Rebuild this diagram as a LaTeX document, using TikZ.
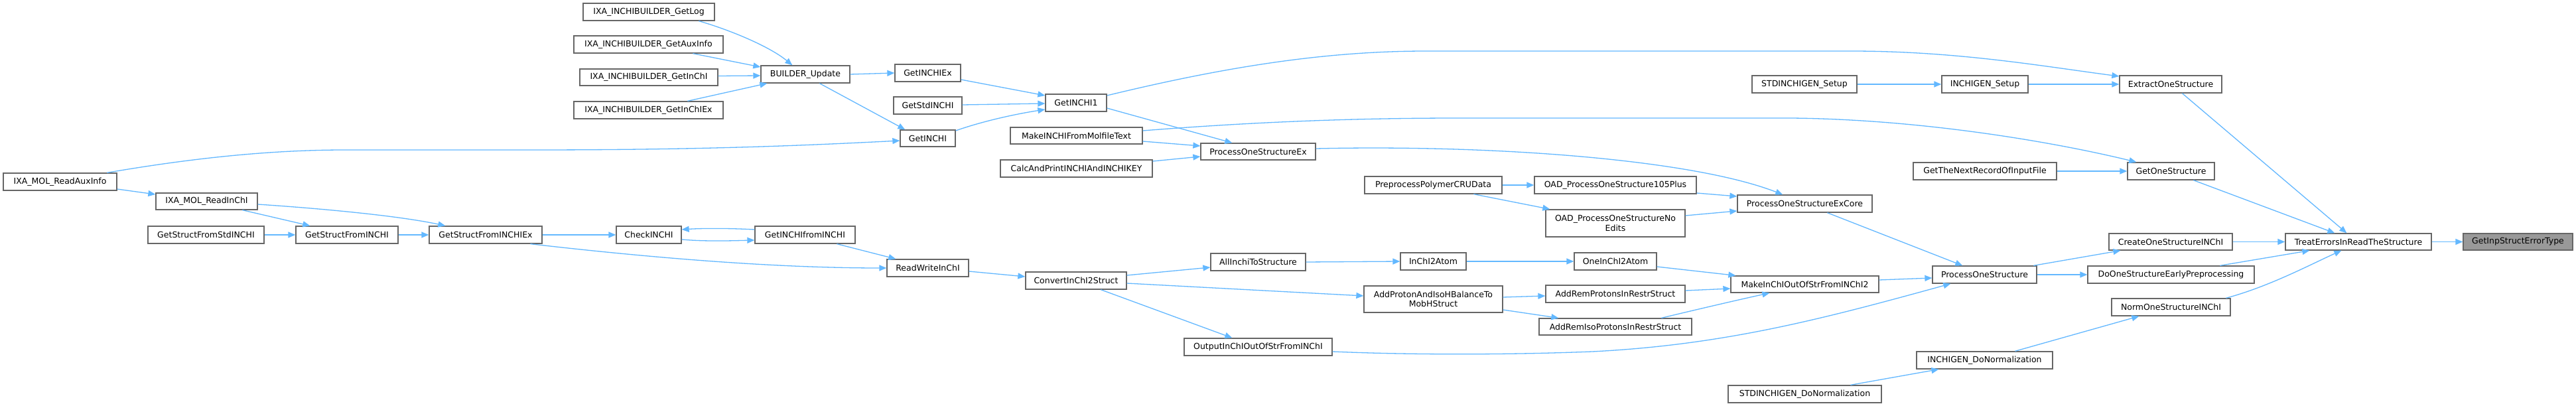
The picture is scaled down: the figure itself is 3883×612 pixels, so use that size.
\documentclass[tikz,border=0pt]{standalone}
\usepackage{fontspec}
\setmainfont{DejaVu Sans}
\usetikzlibrary{arrows.meta}
\definecolor{edgeblue}{HTML}{63B8FF}
\definecolor{boxgray}{HTML}{666666}
\definecolor{rootfill}{HTML}{999999}
\newcommand{\gbox}[7]{\node[nbox,#2,minimum width={(#5-#3)*1pt},minimum height={(#6-#4)*1pt}] (#1) at ({(#3+#5)/2},{(#4+#6)/2}) {#7};}
\tikzset{
  nbox/.style={draw=boxgray, fill=white, line width=1.3pt, inner sep=0pt, align=center,
    font=\fontsize{12.5}{14.5}\selectfont, text=black},
  rootbox/.style={fill=rootfill},
  plain/.style={},
  edge/.style={draw=edgeblue, line width=1.3pt, -{Triangle[length=11pt,width=9pt]}}
}
\begin{document}
\begin{tikzpicture}[x=1pt,y=-1pt]
\fill[white] (0,0) rectangle (3883,612);
\path[use as bounding box] (0,0) rectangle (3883,612);
% nodes
\gbox{rai}{plain}{5}{261}{176}{287}{IXA\_MOL\_ReadAuxInfo}
\gbox{rinchi}{plain}{235}{291}{388}{316}{IXA\_MOL\_ReadInChI}
\gbox{gsfstd}{plain}{223}{341}{398}{367}{GetStructFromStdINCHI}
\gbox{gsf}{plain}{446}{341}{600}{367}{GetStructFromINCHI}
\gbox{gsfex}{plain}{647}{341}{817}{367}{GetStructFromINCHIEx}
\gbox{chk}{plain}{929}{341}{1027}{367}{CheckINCHI}
\gbox{gif}{plain}{1138}{341}{1289}{367}{GetINCHIfromINCHI}
\gbox{rw}{plain}{1337}{391}{1460}{417}{ReadWriteInChI}
\gbox{conv}{plain}{1546}{410}{1698}{436}{ConvertInChI2Struct}
\gbox{getlog}{plain}{879}{5}{1077}{31}{IXA\_INCHIBUILDER\_GetLog}
\gbox{getaux}{plain}{865}{54}{1090}{80}{IXA\_INCHIBUILDER\_GetAuxInfo}
\gbox{getinchib}{plain}{874}{104}{1082}{129}{IXA\_INCHIBUILDER\_GetInChI}
\gbox{getinchiexb}{plain}{865}{153}{1090}{179}{IXA\_INCHIBUILDER\_GetInChIEx}
\gbox{bu}{plain}{1147}{99}{1281}{125}{BUILDER\_Update}
\gbox{gex}{plain}{1349}{97}{1448}{123}{GetINCHIEx}
\gbox{gstd}{plain}{1347}{146}{1450}{172}{GetStdINCHI}
\gbox{gi}{plain}{1357}{196}{1440}{221}{GetINCHI}
\gbox{gi1}{plain}{1576}{142}{1668}{168}{GetINCHI1}
\gbox{mk}{plain}{1523}{192}{1722}{217}{MakeINCHIFromMolfileText}
\gbox{calc}{plain}{1508}{241}{1737}{267}{CalcAndPrintINCHIAndINCHIKEY}
\gbox{pose}{plain}{1810}{216}{1983}{241}{ProcessOneStructureEx}
\gbox{ppc}{plain}{2057}{266}{2264}{292}{PreprocessPolymerCRUData}
\gbox{oad1}{plain}{2313}{266}{2557}{292}{OAD\_ProcessOneStructure105Plus}
\gbox{oad2}{plain}{2330}{316}{2540}{357}{OAD\_ProcessOneStructureNo\\Edits}
\gbox{allin}{plain}{1825}{382}{1968}{408}{AllInchiToStructure}
\gbox{i2a}{plain}{2111}{381}{2210}{407}{InChI2Atom}
\gbox{oi2a}{plain}{2373}{381}{2497}{407}{OneInChI2Atom}
\gbox{addp}{plain}{2056}{431}{2265}{471}{AddProtonAndIsoHBalanceTo\\MobHStruct}
\gbox{arp}{plain}{2330}{430}{2540}{456}{AddRemProtonsInRestrStruct}
\gbox{arip}{plain}{2320}{480}{2550}{505}{AddRemIsoProtonsInRestrStruct}
\gbox{out}{plain}{1785}{510}{2008}{536}{OutputInChIOutOfStrFromINChI}
\gbox{stdsetup}{plain}{2641}{114}{2799}{140}{STDINCHIGEN\_Setup}
\gbox{isetup}{plain}{2927}{114}{3057}{140}{INCHIGEN\_Setup}
\gbox{ext}{plain}{3195}{114}{3349}{140}{ExtractOneStructure}
\gbox{gnr}{plain}{2884}{245}{3100}{271}{GetTheNextRecordOfInputFile}
\gbox{gos}{plain}{3207}{245}{3338}{271}{GetOneStructure}
\gbox{posec}{plain}{2619}{294}{2822}{320}{ProcessOneStructureExCore}
\gbox{mk2}{plain}{2609}{416}{2832}{441}{MakeInChIOutOfStrFromINChI2}
\gbox{pos}{plain}{2913}{401}{3070}{427}{ProcessOneStructure}
\gbox{idn}{plain}{2889}{530}{3094}{556}{INCHIGEN\_DoNormalization}
\gbox{sdn}{plain}{2605}{581}{2836}{607}{STDINCHIGEN\_DoNormalization}
\gbox{cos}{plain}{3179}{352}{3365}{377}{CreateOneStructureINChI}
\gbox{doe}{plain}{3147}{401}{3398}{427}{DoOneStructureEarlyPreprocessing}
\gbox{nos}{plain}{3183}{450}{3362}{476}{NormOneStructureINChI}
\gbox{tre}{plain}{3445}{352}{3665}{377}{TreatErrorsInReadTheStructure}
\gbox{root}{rootbox}{3713}{352}{3878}{377}{GetInpStructErrorType}
% edges
\draw[edge] ([xshift=157pt]rai.north west) .. controls (280,240) and (400,226) .. (520,226) -- (800,226) .. controls (1050,226) and (1200,220) .. ([yshift=-3.5pt]gi.west);
\draw[edge] ([yshift=-11pt]rai.east) -- ([yshift=10.5pt]rinchi.west);
\draw[edge] ([xshift=131pt]rinchi.south west) -- ([xshift=22pt]gsf.north west);
\draw[edge] ([yshift=-4.5pt]rinchi.east) .. controls (480,314) and (600,325) .. ([xshift=25pt]gsfex.north west);
\draw[edge] (gsfstd.east) -- (gsf.west);
\draw[edge] (gsf.east) -- (gsfex.west);
\draw[edge] (gsfex.east) -- (chk.west);
\draw[edge] ([xshift=153pt]gsfex.south west) .. controls (950,385) and (1150,404) .. (rw.west);
\draw[edge] ([yshift=-7pt]chk.east) .. controls (1060,364) and (1100,363) .. ([yshift=-8pt]gif.west);
\draw[edge] ([yshift=8pt]gif.west) .. controls (1100,344) and (1060,344) .. ([yshift=8pt]chk.east);
\draw[edge] ([xshift=124pt]gif.south west) -- ([xshift=14pt]rw.north west);
\draw[edge] ([yshift=-5pt]rw.east) -- ([yshift=6pt]conv.west);
\draw[edge] ([yshift=8pt]conv.east) -- ([yshift=-8pt]allin.west);
\draw[edge] ([yshift=-4pt]conv.east) -- ([yshift=5pt]addp.west);
\draw[edge] ([xshift=114pt]conv.south west) -- ([xshift=73pt]out.north west);
\draw[edge] (allin.east) -- (i2a.west);
\draw[edge] (i2a.east) -- (oi2a.west);
\draw[edge] ([yshift=-8pt]oi2a.east) -- ([xshift=8pt]mk2.north west);
\draw[edge] ([yshift=3pt]addp.east) -- ([yshift=-3pt]arp.west);
\draw[edge] ([yshift=-16pt]addp.east) -- ([xshift=30pt]arip.north west);
\draw[edge] ([yshift=5pt]arp.east) -- ([yshift=-6.5pt]mk2.west);
\draw[edge] ([xshift=185pt]arip.north west) .. controls (2560,466) and (2620,452) .. ([xshift=59pt]mk2.south west);
\draw[edge] ([yshift=-7pt]out.east) .. controls (2150,536) and (2300,534) .. (2400,530) .. controls (2600,520) and (2750,480) .. ([xshift=28pt]pos.south west);
\draw[edge] ([yshift=6.5pt]mk2.east) -- ([yshift=-5pt]pos.west);
\draw[edge] ([xshift=136pt]posec.south west) -- ([xshift=46pt]pos.north west);
\draw[edge] ([xshift=153pt]pos.north west) -- ([xshift=18pt]cos.south west);
\draw[edge] (pos.east) -- (doe.west);
\draw[edge] ([xshift=149pt]idn.north west) -- ([xshift=42pt]nos.south west);
\draw[edge] ([xshift=185pt]sdn.north west) -- ([xshift=34pt]idn.south west);
\draw[edge] (cos.east) -- (tre.west);
\draw[edge] ([xshift=200pt]doe.north west) -- ([xshift=37pt]tre.south west);
\draw[edge] ([xshift=173pt]nos.north west) .. controls (3420,432) and (3480,400) .. ([xshift=85pt]tre.south west);
\draw[edge] ([xshift=100pt]gos.south west) -- ([xshift=75pt]tre.north west);
\draw[edge] ([xshift=95pt]ext.south west) -- ([xshift=93pt]tre.north west);
\draw[edge] (tre.east) -- (root.west);
\draw[edge] (gnr.east) -- (gos.west);
\draw[edge] (stdsetup.east) -- (isetup.west);
\draw[edge] (isetup.east) -- (ext.west);
\draw[edge] ([yshift=11pt]gi1.east) .. controls (1850,100) and (2000,77) .. (2150,77) -- (2790,77) .. controls (2950,77) and (3080,100) .. ([yshift=12pt]ext.west);
\draw[edge] ([yshift=7.5pt]mk.east) .. controls (1900,183) and (2050,178) .. (2200,178) -- (2700,178) .. controls (2900,180) and (3100,215) .. ([xshift=14pt]gos.north west);
\draw[edge] ([yshift=4.5pt]pose.east) .. controls (2250,218) and (2550,240) .. ([xshift=69pt]posec.north west);
\draw[edge] (ppc.east) -- (oad1.west);
\draw[edge] ([xshift=165pt]ppc.south west) -- ([xshift=7pt]oad2.north west);
\draw[edge] ([yshift=-12pt]oad1.east) -- ([yshift=11pt]posec.west);
\draw[edge] ([yshift=11.5pt]oad2.east) -- ([yshift=-11pt]posec.west);
\draw[edge] ([yshift=-8pt]gi1.east) -- ([xshift=48pt]pose.north west);
\draw[edge] ([yshift=-8.5pt]mk.east) -- ([yshift=8.5pt]pose.west);
\draw[edge] ([yshift=11pt]calc.east) -- ([yshift=-7.5pt]pose.west);
\draw[edge] ([yshift=-10pt]gex.east) -- ([yshift=11pt]gi1.west);
\draw[edge] ([yshift=1pt]gstd.east) -- ([yshift=-1pt]gi1.west);
\draw[edge] ([yshift=11.5pt]gi.east) .. controls (1480,183) and (1530,172) .. ([yshift=-10pt]gi1.west);
\draw[edge] (bu.east) -- (gex.west);
\draw[edge] ([xshift=89pt]bu.south west) -- ([xshift=8pt]gi.north west);
\draw[edge] ([xshift=175pt]getlog.south west) .. controls (1100,45) and (1160,70) .. ([xshift=48pt]bu.north west);
\draw[edge] ([xshift=180pt]getaux.south west) -- ([yshift=11pt]bu.west);
\draw[edge] ([yshift=2pt]getinchib.east) -- ([yshift=-2pt]bu.west);
\draw[edge] ([xshift=172pt]getinchiexb.north west) -- ([xshift=10pt]bu.south west);
\end{tikzpicture}
\end{document}
